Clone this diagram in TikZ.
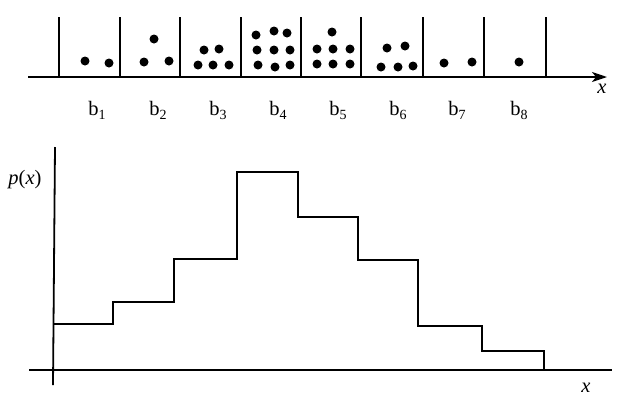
\documentclass[tikz,border=0pt]{standalone}
\usepackage{fontspec}
\setmainfont{Liberation Serif}
\usetikzlibrary{arrows.meta}
\begin{document}
\begin{tikzpicture}[x=1pt,y=-1pt,line width=1.8pt,
  dot/.style={circle,fill,inner sep=0pt,minimum size=9pt},
  lbl/.style={font=\fontsize{20.5}{24}\selectfont,inner sep=0pt},
  axis/.style={line width=1.8pt},
  stepline/.style={line width=1.9pt}]
\useasboundingbox (0,0) rectangle (618,413);
% ---------- top: bins with dots ----------
\coordinate (ta0) at (28,77);
\coordinate (ta1) at (607,77);
\draw[axis,-{Stealth[length=15pt,width=10pt,inset=4pt]}] (ta0) -- (ta1);
\foreach \i/\x in {0/59,1/120,2/180,3/241,4/301,5/361,6/423,7/484,8/546}{
  \coordinate (dt\i) at (\x,17);
  \coordinate (db\i) at (\x,77);
  \draw[axis] (dt\i) -- (db\i);
}
\node[lbl] (xt) at (602,89) {\textit{x}};
% dots
\foreach \n/\x/\y in {
  a1/85/61, a2/109/63,
  c1/144/62, c2/169/61, c3/154/39,
  d1/198/65, d2/213/65, d3/229/65, d4/204/50, d5/219/49,
  e1/256/35, e2/274/31, e3/287/33, e4/257/50, e5/274/50, e6/290/50, e7/258/65, e8/275/67, e9/290/65,
  f1/332/32, f2/317/49, f3/333/49, f4/350/49, f5/317/64, f6/333/64, f7/350/64,
  g1/387/48, g2/405/46, g3/381/67, g4/398/67, g5/413/66,
  h1/444/63, h2/472/62,
  k1/519/62}{
  \node[dot] (\n) at (\x,\y) {};
}
% labels
\foreach \i/\x in {1/97,2/158,3/218,4/278,5/338,6/398,7/457,8/519}{
  \node[lbl] (lb\i) at (\x,110) {b\lower4pt\hbox{\fontsize{14}{14}\selectfont \i}};
}
% ---------- bottom: histogram ----------
\coordinate (ya0) at (53,385);
\coordinate (ya1) at (55,147);
\draw[axis] (ya0) -- (ya1);
\coordinate (xa0) at (29,370);
\coordinate (xa1) at (612,370);
\draw[axis] (xa0) -- (xa1);
\node[lbl] (px) at (25,180) {\textit{p}(\textit{x})};
\node[lbl] (xb) at (586,388) {\textit{x}};
\coordinate (s0) at (54,324);
\coordinate (s1) at (113,302);
\coordinate (s2) at (174,259);
\coordinate (s3) at (237,172);
\coordinate (s4) at (298,217);
\coordinate (s5) at (358,260);
\coordinate (s6) at (418,326);
\coordinate (s7) at (482,351);
\coordinate (s8) at (544,370);
\draw[stepline] (s0) -| (s1) -| (s2) -| (s3) -| (s4) -| (s5) -| (s6) -| (s7) -| (s8);
\end{tikzpicture}
\end{document}
